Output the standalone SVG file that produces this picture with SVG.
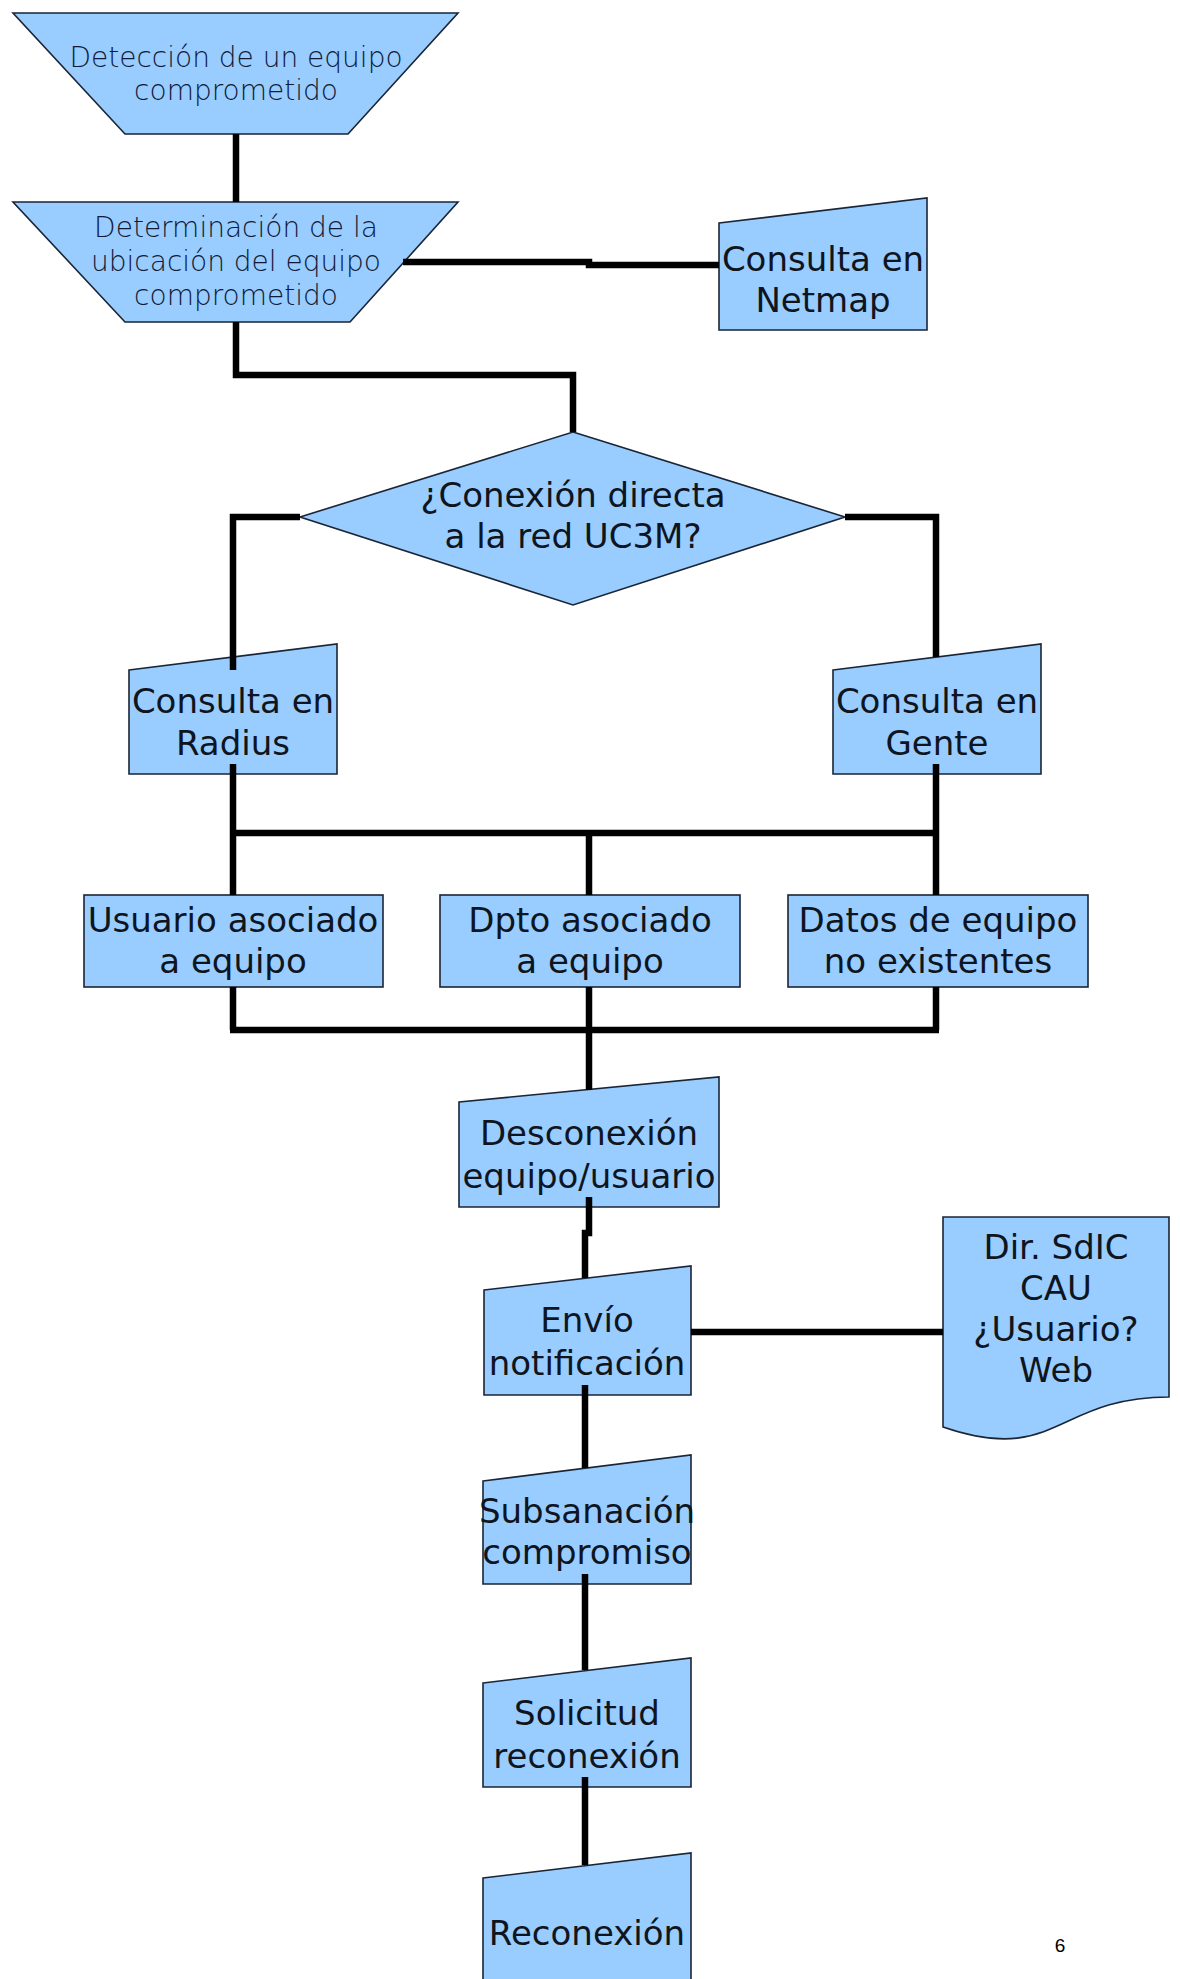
<svg xmlns="http://www.w3.org/2000/svg" width="1180" height="1979" viewBox="0 0 1180 1979">
<style>
.shape{fill:#99ccff;stroke:#1a2535;stroke-width:1.6;stroke-linejoin:miter}
.t{font-family:"DejaVu Sans","Liberation Sans",sans-serif;font-size:34px;fill:#0e1520;text-anchor:middle}
.tl{font-family:"DejaVu Sans","Liberation Sans",sans-serif;font-size:28px;font-weight:200;fill:#101a36;text-anchor:middle}
.conn{fill:none;stroke:#000;stroke-width:6.5;stroke-linejoin:miter;stroke-linecap:butt}
</style>
<rect x="0" y="0" width="1180" height="1979" fill="#ffffff"/>
<g id="n-deteccion">
<path class="shape" d="M13,13 H458 L348,134 H125 Z"/>
<text class="tl" x="236" y="67">Detección de un equipo</text>
<text class="tl" x="236" y="100">comprometido</text>
</g>
<g id="n-determinacion">
<path class="shape" d="M13,202 H458 L350,322 H125 Z"/>
<text class="tl" x="236" y="237">Determinación de la</text>
<text class="tl" x="236" y="271">ubicación del equipo</text>
<text class="tl" x="236" y="305">comprometido</text>
</g>
<g id="n-netmap">
<polygon class="shape" points="719,223 927,198 927,330 719,330"/>
<text class="t" x="823" y="271">Consulta en</text>
<text class="t" x="823" y="312">Netmap</text>
</g>
<g id="n-decision">
<polygon class="shape" points="573,432 845,517 573,605 300,517"/>
<text class="t" x="573" y="507">¿Conexión directa</text>
<text class="t" x="573" y="548">a la red UC3M?</text>
</g>
<g id="n-radius">
<polygon class="shape" points="129,670 337,644 337,774 129,774"/>
<text class="t" x="233" y="713">Consulta en</text>
<text class="t" x="233" y="755">Radius</text>
</g>
<g id="n-gente">
<polygon class="shape" points="833,670 1041,644 1041,774 833,774"/>
<text class="t" x="937" y="713">Consulta en</text>
<text class="t" x="937" y="755">Gente</text>
</g>
<g id="n-usuario">
<rect class="shape" x="84" y="895" width="299" height="92"/>
<text class="t" x="233" y="932">Usuario asociado</text>
<text class="t" x="233" y="973">a equipo</text>
</g>
<g id="n-dpto">
<rect class="shape" x="440" y="895" width="300" height="92"/>
<text class="t" x="590" y="932">Dpto asociado</text>
<text class="t" x="590" y="973">a equipo</text>
</g>
<g id="n-datos">
<rect class="shape" x="788" y="895" width="300" height="92"/>
<text class="t" x="938" y="932">Datos de equipo</text>
<text class="t" x="938" y="973">no existentes</text>
</g>
<g id="n-desconexion">
<polygon class="shape" points="459,1102 719,1077 719,1207 459,1207"/>
<text class="t" x="589" y="1145">Desconexión</text>
<text class="t" x="589" y="1188">equipo/usuario</text>
</g>
<g id="n-envio">
<polygon class="shape" points="484,1290 691,1266 691,1395 484,1395"/>
<text class="t" x="587" y="1332">Envío</text>
<text class="t" x="587" y="1375">notificación</text>
</g>
<g id="n-dir">
<path class="shape" d="M943,1217 H1169 V1397 C1056,1397 1056,1466 943,1427 Z"/>
<text class="t" x="1056" y="1259">Dir. SdIC</text>
<text class="t" x="1056" y="1300">CAU</text>
<text class="t" x="1056" y="1341">¿Usuario?</text>
<text class="t" x="1056" y="1382">Web</text>
</g>
<g id="n-subsanacion">
<polygon class="shape" points="483,1481 691,1455 691,1584 483,1584"/>
<text class="t" x="587" y="1523">Subsanación</text>
<text class="t" x="587" y="1564">compromiso</text>
</g>
<g id="n-solicitud">
<polygon class="shape" points="483,1683 691,1658 691,1787 483,1787"/>
<text class="t" x="587" y="1725">Solicitud</text>
<text class="t" x="587" y="1768">reconexión</text>
</g>
<g id="n-reconexion">
<polygon class="shape" points="483,1878 691,1853 691,1990 483,1990"/>
<text class="t" x="587" y="1945">Reconexión</text>
</g>
<g id="connectors">
<path class="conn" d="M236,134 V202"/>
<path class="conn" d="M403,262 H589 V265 H719"/>
<path class="conn" d="M236,322 V375 H573 V432"/>
<path class="conn" d="M300,517 H233 V670"/>
<path class="conn" d="M845,517 H936 V657"/>
<path class="conn" d="M233,764 V833"/>
<path class="conn" d="M936,764 V833"/>
<path class="conn" d="M230,833 H939"/>
<path class="conn" d="M233,833 V895"/>
<path class="conn" d="M589,833 V895"/>
<path class="conn" d="M936,833 V895"/>
<path class="conn" d="M233,987 V1030"/>
<path class="conn" d="M589,987 V1030"/>
<path class="conn" d="M936,987 V1030"/>
<path class="conn" d="M230,1030 H939"/>
<path class="conn" d="M589,1030 V1090"/>
<path class="conn" d="M589,1197 V1233 H585 V1278"/>
<path class="conn" d="M691,1332 H943"/>
<path class="conn" d="M585,1385 V1468"/>
<path class="conn" d="M585,1574 V1670"/>
<path class="conn" d="M585,1777 V1865"/>
</g>
<text x="1060" y="1952" font-family="Liberation Sans, Arial, sans-serif" font-size="19" fill="#000" text-anchor="middle">6</text>
</svg>
